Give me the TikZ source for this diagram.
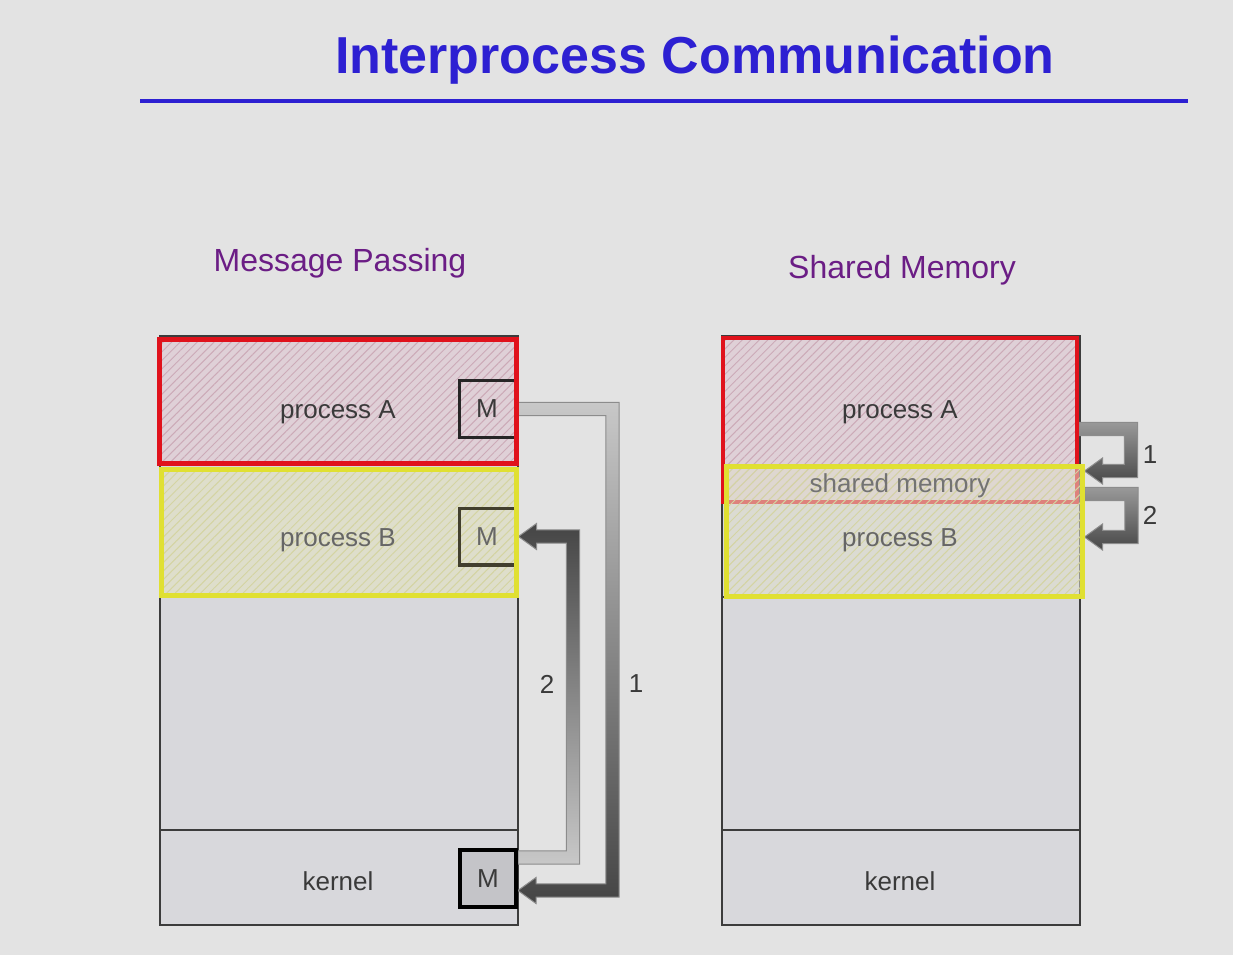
\documentclass[tikz,border=0pt]{standalone}
\usepackage{fontspec}
\setmainfont{Liberation Sans}
\usetikzlibrary{positioning, calc, fit, patterns.meta}
\pgfdeclarelayer{columns}
\pgfdeclarelayer{links}
\pgfsetlayers{columns,links,main}

\definecolor{paper}{HTML}{E3E3E3}
\definecolor{titleblue}{HTML}{2D20D2}
\definecolor{headpurple}{HTML}{6B1D85}
\definecolor{memgray}{HTML}{D8D8DC}
\definecolor{framegray}{HTML}{3C3C3C}
\definecolor{procred}{HTML}{E0121C}
\definecolor{procredfill}{HTML}{DFD0D7}
\definecolor{procredhatch}{HTML}{CCAAB7}
\definecolor{procyellow}{HTML}{E0E032}
\definecolor{procyellowfill}{HTML}{DEDECB}
\definecolor{procyellowhatch}{HTML}{D4D4A2}
\definecolor{kernelm}{HTML}{C4C4C8}
\definecolor{linklight}{HTML}{C8C8C8}
\definecolor{linkdark}{HTML}{454545}
\definecolor{textgray}{HTML}{3A3A3A}

% bent fat arrow: [options]{start}{end}{reach}
\newcommand{\linkw}{3.3pt}
\newcommand{\linkhl}{9pt}
\newcommand{\linkhw}{6.5pt}
\newcommand{\bentarrow}[4][]{%
  \path[fatlink, #1] let \p1=(#2), \p2=(#3), \n2={sign(\y1-\y2)} in
    (\x1, \y1+\n2*\linkw) -- (\x1+#4+\linkw, \y1+\n2*\linkw)
    -- (\x1+#4+\linkw, \y2-\n2*\linkw) -- (\x2+\linkhl, \y2-\n2*\linkw)
    -- (\x2+\linkhl, \y2-\n2*\linkhw) -- (\x2, \y2)
    -- (\x2+\linkhl, \y2+\n2*\linkhw) -- (\x2+\linkhl, \y2+\n2*\linkw)
    -- (\x1+#4-\linkw, \y2+\n2*\linkw) -- (\x1+#4-\linkw, \y1-\n2*\linkw)
    -- (\x1, \y1-\n2*\linkw) -- cycle;}

\begin{document}
\begin{tikzpicture}[
    x=0.5pt, y=-0.5pt,
    % ── Node styles ──────────────────────────────────────────────────────
    memcol/.style={
        draw=framegray, line width=0.8pt, fill=memgray, inner sep=0pt
    },
    procA/.style={
        draw=procred, line width=2.5pt, inner sep=0pt,
        preaction={fill=procredfill},
        pattern={Lines[angle=45, distance=3pt, line width=0.5pt]},
        pattern color=procredhatch
    },
    procB/.style={
        draw=procyellow, line width=2.5pt, inner sep=0pt,
        preaction={fill=procyellowfill},
        pattern={Lines[angle=45, distance=3pt, line width=0.5pt]},
        pattern color=procyellowhatch
    },
    regiontext/.style={
        font=\fontsize{13}{15}\selectfont, text=textgray, inner sep=1pt
    },
    mbox/.style={
        minimum width=27pt, minimum height=28pt, inner sep=0pt,
        font=\fontsize{13}{15}\selectfont, text=textgray
    },
    mline/.style={line width=1.6pt, draw=black!85},
    heading/.style={font=\fontsize{16}{19}\selectfont, text=headpurple},
    % ── Arrow style ──────────────────────────────────────────────────────
    fatlink/.style={draw=black!45, line width=0.5pt},
    linklabel/.style={font=\fontsize{13}{15}\selectfont, text=textgray}
]

\begin{pgfonlayer}{columns}
    \fill[paper] (0,0) rectangle (1233,955);
\end{pgfonlayer}
\useasboundingbox (0,0) rectangle (1233,955);

% ═══════════════════════════════════════════════════════════════════════════
% Title
% ═══════════════════════════════════════════════════════════════════════════
\node[font=\fontsize{26}{30}\selectfont\bfseries, text=titleblue] (title)
    at (695,60) {Interprocess Communication};
\draw[titleblue, line width=2pt] (140,101) -- (1188,101);

\node[heading] (mphead) at (340,263) {Message Passing};
\node[heading] (smhead) at (902,270) {Shared Memory};

% ═══════════════════════════════════════════════════════════════════════════
% Memory columns
% ═══════════════════════════════════════════════════════════════════════════
\begin{pgfonlayer}{columns}
    \node[memcol, fit={(160,336) (518,925)}] (lcol) {};
    \node[memcol, fit={(160,597) (518,830)}] (lmid) {};
    \node[memcol, fit={(160,830) (518,925)}] (lker) {};
    \node[memcol, fit={(722,336) (1080,925)}] (rcol) {};
    \node[memcol, fit={(722,597) (1080,830)}] (rmid) {};
    \node[memcol, fit={(722,830) (1080,925)}] (rker) {};
\end{pgfonlayer}

% ═══════════════════════════════════════════════════════════════════════════
% Message passing
% ═══════════════════════════════════════════════════════════════════════════
\node[procA, fit={(159,339) (516,463)}] (lprocA) {};
\node[procB, fit={(161,469) (516,595)}] (lprocB) {};

\node[regiontext] (ltA) at (338,412) {process A};
\node[regiontext, text=black!60] (ltB) at (338,540) {process B};
\node[regiontext] (ltK) at (338,881) {kernel};

\node[mbox] (lmA) at (487,409) {M};
\node[mbox, text=black!60] (lmB) at (487,536.5) {M};
\node[mbox, minimum width=28pt, minimum height=28.5pt, draw=black,
      line width=2pt, fill=kernelm] (lmK) at (488,878.5) {M};

\draw[mline] (lmA.north east) -- (lmA.north west) -- (lmA.south west) -- (lmA.south east);
\draw[mline, draw=black!70!olive] (lmB.north east) -- (lmB.north west)
    -- (lmB.south west) -- (lmB.south east);

% ═══════════════════════════════════════════════════════════════════════════
% Shared memory
% ═══════════════════════════════════════════════════════════════════════════
\node[procA, line width=2pt, fit={(723,338) (1077,502)}] (rprocA) {};
\node[procB, fill opacity=0.55, fit={(726,466) (1082,596)}] (rprocB) {};

\node[regiontext] (rtA) at (900,412) {process A};
\node[regiontext, text=black!55] (rtS) at (900,486) {shared memory};
\node[regiontext, text=black!60] (rtB) at (900,540) {process B};
\node[regiontext] (rtK) at (900,881) {kernel};

% ═══════════════════════════════════════════════════════════════════════════
% Arrows
% ═══════════════════════════════════════════════════════════════════════════
\begin{pgfonlayer}{links}
    \coordinate (a1s) at (lprocA.east |- lmA.center);
    \coordinate (a1e) at ([yshift=-6pt]lmK.east);
    \coordinate (a2s) at ([yshift=10.5pt]lmK.east);
    \coordinate (a2e) at (lprocB.east |- lmB.center);
    \bentarrow[top color=linklight, bottom color=linkdark]{a1s}{a1e}{48pt}
    \bentarrow[top color=linkdark, bottom color=linklight]{a2s}{a2e}{27.5pt}

    \coordinate (b1s) at (rprocA.east |- 0,429);
    \coordinate (b1e) at (rprocB.east |- 0,471);
    \coordinate (b2s) at (rprocB.east |- 0,494);
    \coordinate (b2e) at (rprocB.east |- 0,537);
    \bentarrow[top color=black!40, bottom color=black!72]{b1s}{b1e}{26pt}
    \bentarrow[top color=black!40, bottom color=black!72]{b2s}{b2e}{23.5pt}
\end{pgfonlayer}

\node[linklabel] (lab2) at (547,684) {2};
\node[linklabel] (lab1) at (636,684) {1};
\node[linklabel] (rlab1) at (1150,455) {1};
\node[linklabel] (rlab2) at (1150,515) {2};

\end{tikzpicture}
\end{document}
